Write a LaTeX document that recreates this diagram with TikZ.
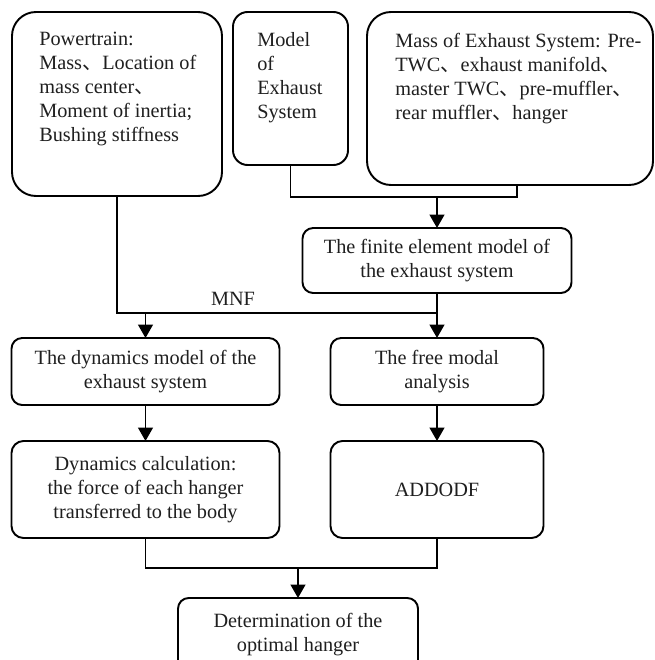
\documentclass[tikz,border=0pt]{standalone}
\usepackage{fontspec}
\setmainfont{Liberation Serif}
\newfontfamily\cjk{Noto Sans CJK SC}
\usetikzlibrary{arrows.meta}
\newcommand{\dun}{{\cjk 、}}
\begin{document}
\begin{tikzpicture}[x=0.75pt,y=-0.75pt,
  box/.style={draw, line width=1.45pt, rounded corners=#1, inner sep=0pt, outer sep=0pt},
  box/.default=8pt,
  sz/.style 2 args={minimum width=#1*0.75pt, minimum height=#2*0.75pt},
  txt/.style={font=\fontsize{15.2}{18}\selectfont, text=black!88, align=center, inner sep=0pt},
  ttl/.style={txt, align=left, anchor=north west},
  ln/.style={line width=1.45pt},
  arr/.style={ln, -{Triangle[length=10pt,width=11pt]}}
]
\useasboundingbox (0,0) rectangle (655,660);
\clip (0,0) rectangle (655,660);
\fill[white] (0,0) rectangle (655,660);

% top boxes
\node[box=18pt, sz={210}{184}] (pt) at (117,104) {};
\node[ttl] (ptt) at (39,32) {Powertrain:\\Mass\dun Location of\\mass center\dun\\Moment of inertia;\\Bushing stiffness};
\node[box=11pt, sz={115}{153}] (model) at (290.5,88.5) {};
\node[ttl] (modelt) at (257,32) {Model\\of\\Exhaust\\System};
\node[box=18pt, sz={286}{173}] (mass) at (510,98.5) {};
\node[ttl] (masst) at (395,33) {Mass of Exhaust System: Pre-\\TWC\dun exhaust manifold\dun\\master TWC\dun pre-muffler\dun\\rear muffler\dun hanger};

% middle
\node[box, sz={269}{65}, txt] (fe) at (437,260.5) {The finite element model of\\the exhaust system};
\node[box, sz={268}{67}, txt] (dyn) at (145.5,371.5) {The dynamics model of the\\exhaust system};
\node[box, sz={213}{67}, txt] (free) at (437,371.5) {The free modal\\analysis};
\node[box=9pt, sz={268}{97}, txt] (calc) at (145.5,489.5) {Dynamics calculation:\\the force of each hanger\\transferred to the body};
\node[box=9pt, sz={213}{97}, txt] (add) at (437,489.5) {ADDODF};
\node[box, sz={240}{73}, txt] (bot) at (298,634.5) {Determination of the\\optimal hanger};

\node[txt] (mnf) at (233,299) {MNF};

% connectors
\coordinate (j1) at (437,197);
\coordinate (mc) at (517,185);
\draw[ln] (model.south) |- (j1) -| (mc);
\draw[arr] (j1) -- (fe.north);

\coordinate (j2) at (145.5,313);
\draw[ln] (pt.south) |- (fe.south |- j2);
\draw[arr] (j2) -- (dyn.north);
\draw[arr] (fe.south) -- (free.north);

\draw[arr] (dyn.south) -- (calc.north);
\draw[arr] (free.south) -- (add.north);

\coordinate (j3) at (298,568);
\draw[ln] (calc.south) |- (j3) -| (add.south);
\draw[arr] (j3) -- (bot.north);
\end{tikzpicture}
\end{document}
